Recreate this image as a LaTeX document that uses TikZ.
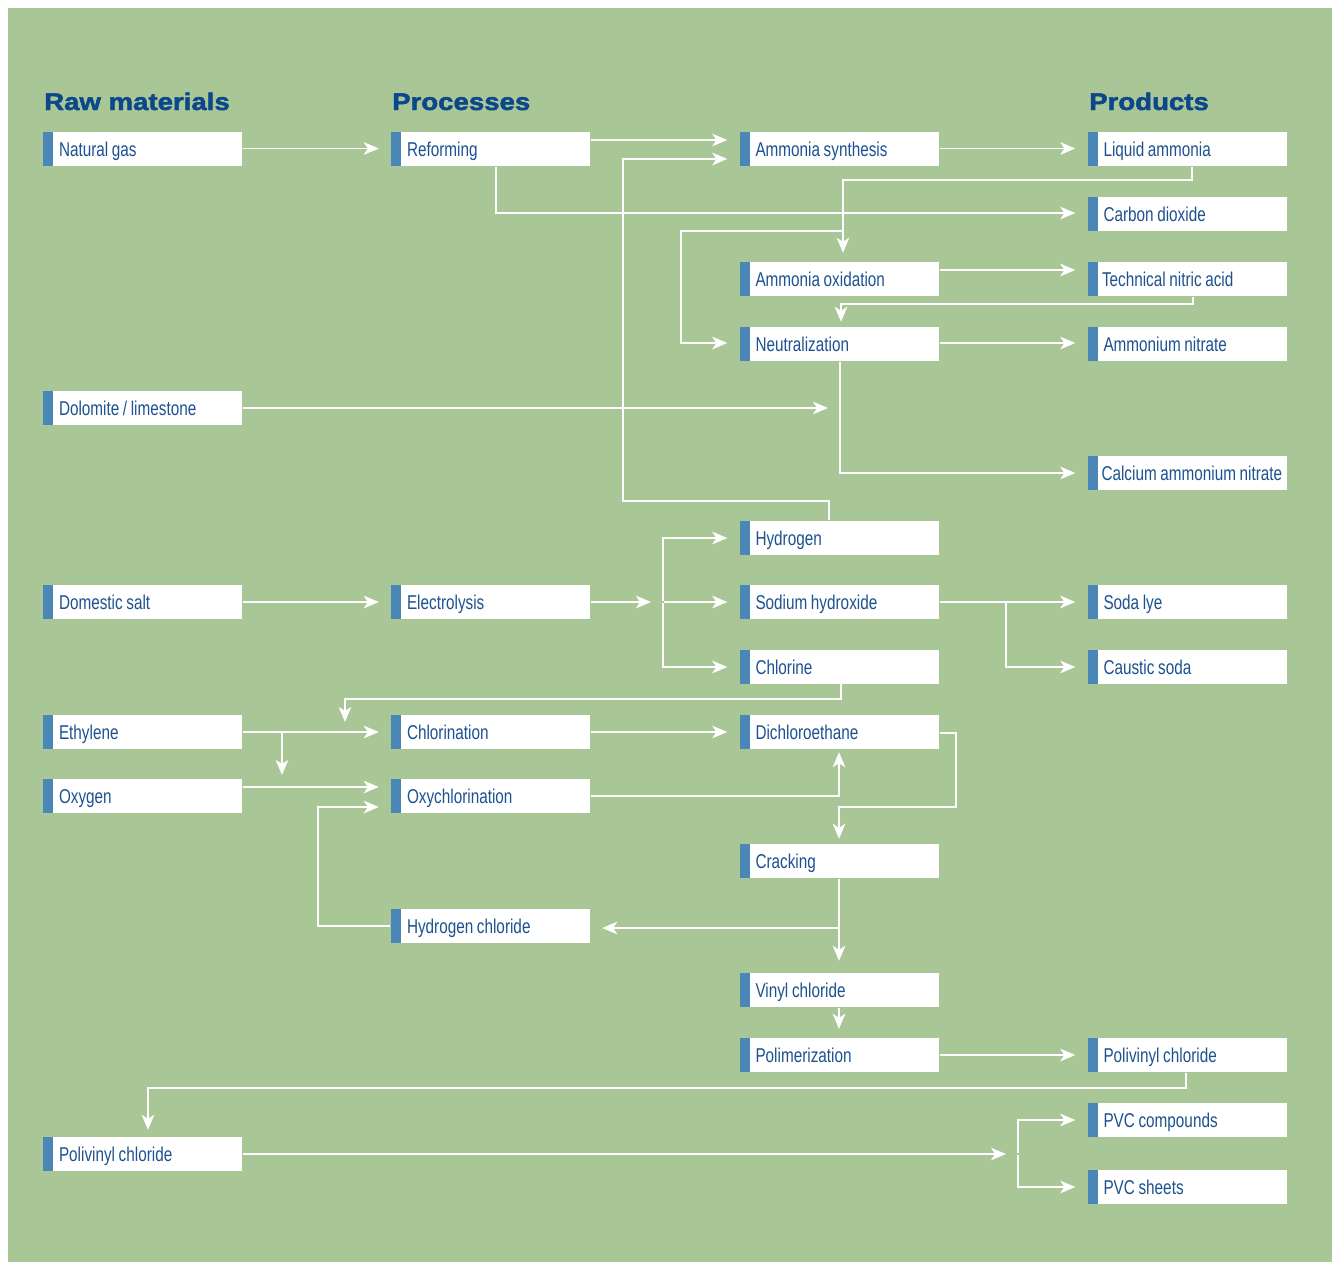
\documentclass[tikz,border=0pt]{standalone}
\usepackage{fontspec}
\usetikzlibrary{arrows.meta,calc}
\newfontfamily\condfont{Liberation Sans}[FakeStretch=0.765,WordSpace=0.85]
\newfontfamily\headfont{Liberation Sans}[FakeStretch=1.15,FakeBold=2]
\definecolor{bggreen}{HTML}{A9C796}
\definecolor{barblue}{HTML}{4A87B6}
\definecolor{txtblue}{HTML}{1D5290}
\definecolor{headblue}{HTML}{0B478A}
\newcommand{\bxt}[2][16pt]{\makebox[199pt][l]{\hspace*{#1}#2}}
\tikzset{
  stepbox/.style={fill=white, minimum width=199pt, minimum height=34pt,
    inner sep=0pt, text height=15pt, text depth=0pt,
    font=\condfont\fontsize{20}{22}\selectfont, text=txtblue,
    path picture={\fill[barblue] (path picture bounding box.north west) rectangle ([xshift=10pt]path picture bounding box.south west);}},
  head/.style={font=\headfont\bfseries\fontsize{24}{26}\selectfont, text=headblue, inner sep=0pt, anchor=base west},
  arr/.style={draw=white, line width=1.7pt, -{Stealth[length=15pt,width=12.5pt,inset=4pt]}, shorten >=12pt, shorten <=1pt},
  arrf/.style={draw=white, line width=1.7pt, -{Stealth[length=15pt,width=12.5pt,inset=4pt]}},
  ln/.style={draw=white, line width=1.7pt}
}
\begin{document}
\begin{tikzpicture}[x=1pt,y=-1pt]
\useasboundingbox (0,0) rectangle (1332,1262);
\fill[white] (0,0) rectangle (1332,1262);
\fill[bggreen] (8,8) rectangle (1332,1262);

% headers
\node[head] (h1) at (44,110) {Raw materials};
\node[head] (h2) at (392,110) {Processes};
\node[head] (h3) at (1089,110) {Products};

% column centres: 142.5, 490.5, 839, 1187
\node[stepbox] (ng)   at (142.5,148.5) {\bxt{Natural gas}};
\node[stepbox] (ref)  at (490.5,148.5) {\bxt{Reforming}};
\node[stepbox] (ams)  at (839,148.5)   {\bxt{Ammonia synthesis}};
\node[stepbox] (la)   at (1187,148.5)  {\bxt{Liquid ammonia}};
\node[stepbox] (co2)  at (1187,214)    {\bxt{Carbon dioxide}};
\node[stepbox] (aox)  at (839,279)     {\bxt{Ammonia oxidation}};
\node[stepbox] (tna)  at (1187,279)    {\bxt[14.5pt]{Technical nitric acid}};
\node[stepbox] (neu)  at (839,344)     {\bxt{Neutralization}};
\node[stepbox] (an)   at (1187,344)    {\bxt{Ammonium nitrate}};
\node[stepbox] (dol)  at (142.5,408)   {\bxt{Dolomite / limestone}};
\node[stepbox] (can)  at (1187,473)    {\bxt[14pt]{Calcium ammonium nitrate}};
\node[stepbox] (hyd)  at (839,538)     {\bxt{Hydrogen}};
\node[stepbox] (salt) at (142.5,602)   {\bxt{Domestic salt}};
\node[stepbox] (ele)  at (490.5,602)   {\bxt{Electrolysis}};
\node[stepbox] (naoh) at (839,602)     {\bxt{Sodium hydroxide}};
\node[stepbox] (soda) at (1187,602)    {\bxt{Soda lye}};
\node[stepbox] (chl)  at (839,667)     {\bxt{Chlorine}};
\node[stepbox] (caus) at (1187,667)    {\bxt{Caustic soda}};
\node[stepbox] (eth)  at (142.5,732)   {\bxt{Ethylene}};
\node[stepbox] (chlo) at (490.5,732)   {\bxt{Chlorination}};
\node[stepbox] (dce)  at (839,732)     {\bxt{Dichloroethane}};
\node[stepbox] (oxy)  at (142.5,796)   {\bxt{Oxygen}};
\node[stepbox] (oxc)  at (490.5,796)   {\bxt{Oxychlorination}};
\node[stepbox] (crk)  at (839,861)     {\bxt{Cracking}};
\node[stepbox] (hcl)  at (490.5,926)   {\bxt{Hydrogen chloride}};
\node[stepbox] (vin)  at (839,990)     {\bxt{Vinyl chloride}};
\node[stepbox] (pol)  at (839,1055)    {\bxt{Polimerization}};
\node[stepbox] (pvcp) at (1187,1055)   {\bxt{Polivinyl chloride}};
\node[stepbox] (pvcc) at (1187,1120)   {\bxt{PVC compounds}};
\node[stepbox] (pvcl) at (142.5,1154)  {\bxt{Polivinyl chloride}};
\node[stepbox] (pvcs) at (1187,1187)   {\bxt{PVC sheets}};

% free-end coordinates
\coordinate (dolend) at (840,408);
\coordinate (esplit) at (663,602);
\coordinate (nsplit) at (1006,602);
\coordinate (ethsplit) at (282,732);
\coordinate (ethtip) at (282,775);
\coordinate (cltip) at (345,722);
\coordinate (psplit) at (1018,1154);

% ammonia branch
\draw[arr] (ng) -- (ref);
\draw[arr] (ref.east |- 0,140) -- (ams.west |- 0,140);
\draw[arr] (hyd.north -| 829,0) -- (829,501) -- (623,501) -- (623,159) -- (ams.west |- 0,159);
\draw[arr] (ref.south -| 496,0) |- (co2.west |- 0,213);
\draw[arr] (ams) -- (la);
\draw[arr, shorten >=9pt] (la.south -| 1192,0) -- (1192,180) -| (aox.north -| 843,0);
\draw[arr] (843,231) -- (681,231) |- (neu.west |- 0,343);
\draw[arr] (aox.east |- 0,270) -- (tna.west |- 0,270);
\draw[arr, shorten >=5pt] (tna.south -| 1193,0) -- (1193,304) -| (neu.north -| 841,0);
\draw[arr] (neu.east |- 0,343) -- (an.west |- 0,343);
\draw[arr] (dol) -- (dolend);
\draw[arr] (neu.south -| 840,0) |- (can.west);

% electrolysis
\draw[arr] (salt) -- (ele);
\draw[arr] (ele) -- (esplit);
\draw[arr] (esplit) |- (hyd);
\draw[arr] (esplit) -- (naoh);
\draw[arr] (esplit) |- (chl);
\draw[arr] (naoh) -- (soda);
\draw[arr] (nsplit) |- (caus);

% PVC route
\draw[arrf] (chl.south -| 841,0) -- (841,699) -| (cltip);
\draw[arr] (eth) -- (chlo);
\draw[arrf] (ethsplit) -- (ethtip);
\draw[arr] (oxy.east |- 0,787) -- (oxc.west |- 0,787);
\draw[arr] (hcl.west) -- (318,926) |- (oxc.west |- 0,807);
\draw[arr] (chlo) -- (dce);
\draw[arr, shorten >=3pt] (oxc.east) -| (dce.south -| 839,0);
\draw[arr, shorten >=5pt] (dce.east |- 0,733) -- (956,733) -- (956,807) -- (839,807) -- (crk.north -| 839,0);
\draw[arr] (crk) -- (vin);
\draw[arr] (839,928) -- (hcl.east |- 0,928);
\draw[arr, shorten >=9pt] (vin) -- (pol);
\draw[arr] (pol) -- (pvcp);
\draw[arr, shorten >=7pt] (pvcp.south -| 1186,0) -- (1186,1088) -| (pvcl.north -| 148,0);
\draw[arr] (pvcl) -- (psplit);
\draw[arr] (psplit) |- (pvcc);
\draw[arr] (psplit) |- (pvcs);
\end{tikzpicture}
\end{document}
